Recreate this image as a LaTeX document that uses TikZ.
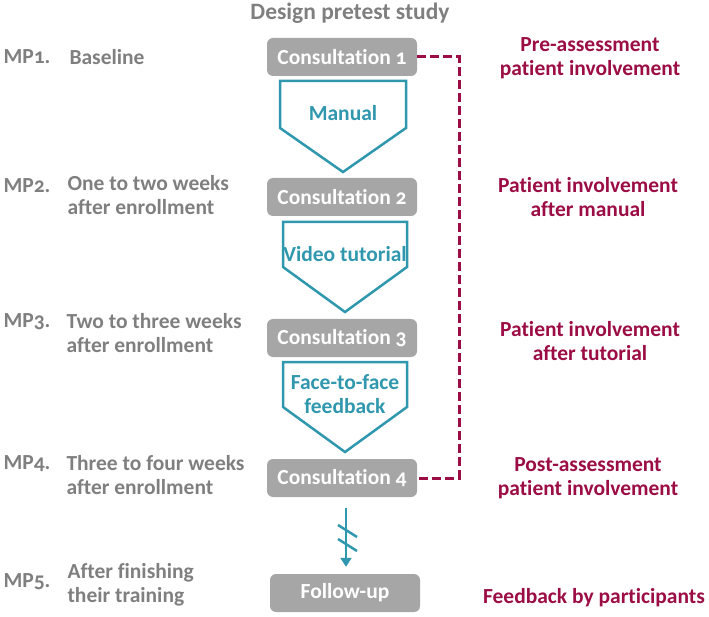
\documentclass[tikz,border=0pt]{standalone}
\usepackage{fontspec}
\setmainfont{Carlito}[Numbers=OldStyle, Ligatures={NoCommon}]
\usepackage{xcolor}
\usepackage{tikz}
\usetikzlibrary{positioning,arrows.meta}

\definecolor{boxgray}{HTML}{A6A6A6}
\definecolor{labelgray}{HTML}{7F7F7F}
\definecolor{stepteal}{HTML}{2F97AE}
\definecolor{assessred}{HTML}{9B0D44}

\begin{document}
\begin{tikzpicture}[
    x=1pt, y=-1pt,
    every node/.style={font=\fontsize{21.5}{24}\selectfont\bfseries},
    consult/.style={rectangle, rounded corners=6pt, fill=boxgray, text=white, minimum width=150pt, minimum height=38pt, inner sep=0pt},
    chevron/.style={draw=stepteal, line width=2.5pt, line join=miter},
    steplabel/.style={text=stepteal, align=center},
    moment/.style={text=labelgray, anchor=west},
    when/.style={text=labelgray, anchor=west, align=left},
    measure/.style={text=assessred, align=center},
    assess/.style={draw=assessred, line width=3pt, dash pattern=on 9pt off 4pt},
    follow/.style={draw=stepteal, line width=2.5pt, -{Triangle[length=9pt,width=11pt]}}
]
\useasboundingbox (0,0) rectangle (709,617);

% Title
\node (title) at (350,13) [text=labelgray, font=\fontsize{23.5}{26}\selectfont\bfseries] {Design pretest study};

% Consultations (middle column)
\node (c1) at (342,57) [consult] {Consultation 1};
\node (c2) at (342,197) [consult] {Consultation 2};
\node (c3) at (342,338) [consult] {Consultation 3};
\node (c4) at (342,478) [consult] {Consultation 4};
\node (fu) at (345,593) [consult] {Follow-up};

% Intervention steps between consultations
\draw [chevron] (280,81) -- (406,81) -- (406,128) -- (343,172) -- (280,128) -- cycle;
\node (manual) at (343,113) [steplabel] {Manual};
\draw [chevron] (283,222) -- (407,222) -- (407,267) -- (345,312) -- (283,267) -- cycle;
\node (video) at (345,254) [steplabel] {Video tutorial};
\draw [chevron] (283,362) -- (407,362) -- (407,407) -- (345,452) -- (283,407) -- cycle;
\node (face) at (345,394) [steplabel] {Face-to-face\\feedback};

% Break to follow-up
\draw [follow] ([xshift=4pt,yshift=-11pt]c4.south) -- ([xshift=1pt,yshift=7pt]fu.north);
\draw [stepteal, line width=2.5pt] (338,525) -- (357,537);
\draw [stepteal, line width=2.5pt] (338,539) -- (357,551);

% Assessment bracket
\draw [assess] (c1.east) -- ++(42,0) |- (c4.east);

% Measurement points (left)
\node (mp1) at (0,57) [moment] {MP1.};
\node (mp1t) at (66,57) [when] {Baseline};
\node (mp2) at (0,186) [moment] {MP2.};
\node (mp2t) at (64,195) [when] {One to two weeks\\after enrollment};
\node (mp3) at (0,322) [moment] {MP3.};
\node (mp3t) at (63,333) [when] {Two to three weeks\\after enrollment};
\node (mp4) at (0,464) [moment] {MP4.};
\node (mp4t) at (63,475) [when] {Three to four weeks\\after enrollment};
\node (mp5) at (0,582) [moment] {MP5.};
\node (mp5t) at (64,585) [when] {After finishing\\their training};

% Measures (right)
\node (m1) at (590,58) [measure] {Pre-assessment\\patient involvement};
\node (m2) at (588,197) [measure] {Patient involvement\\after manual};
\node (m3) at (590,341) [measure] {Patient involvement\\after tutorial};
\node (m4) at (588,478) [measure] {Post-assessment\\patient involvement};
\node (m5) at (594,598) [measure] {Feedback by participants};

\end{tikzpicture}
\end{document}
